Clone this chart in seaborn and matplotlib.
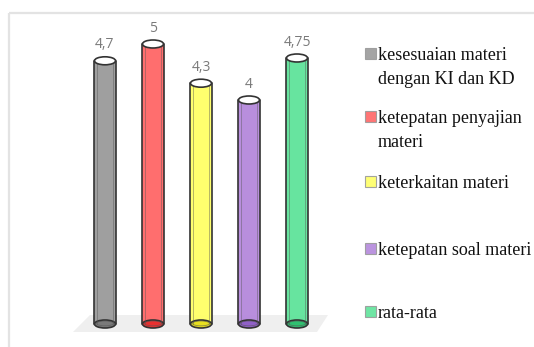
import numpy as np
import matplotlib
matplotlib.use("Agg")
import matplotlib.pyplot as plt
from matplotlib.patches import Ellipse, Polygon, Rectangle
import seaborn as sns

categories = [
    "kesesuaian materi\ndengan KI dan KD",
    "ketepatan penyajian\nmateri",
    "keterkaitan materi",
    "ketepatan soal materi",
    "rata-rata",
]
values = [4.7, 5.0, 4.3, 4.0, 4.75]
value_labels = ["4,7", "5", "4,3", "4", "4,75"]
colors = ["#9a9a9a", "#ff6666", "#ffff66", "#b488dc", "#5fe39a"]
bottom_colors = ["#7a7a7a", "#e83030", "#e8e020", "#9060c8", "#2fc070"]

sns.set_theme(style="white")
W, H = 534, 347
fig = plt.figure(figsize=(W / 100, H / 100), dpi=100)
ax = fig.add_axes([0, 0, 1, 1])

sns.barplot(x=list(range(len(values))), y=values, hue=list(range(len(values))),
            palette=colors, width=0.44, saturation=1, legend=False,
            edgecolor="none", linewidth=0, alpha=0.95, ax=ax)

# pixel-to-data mapping: category spacing 48 px, 56 px per unit
x0_px, y0_px, xs, ys = 105, 324, 48, 56
ax.set_xlim(-x0_px / xs, (W - x0_px) / xs)
ax.set_ylim((y0_px - H) / ys, y0_px / ys)
ax.axis("off")

def px(x, y):
    return ((x - x0_px) / xs, (y0_px - y) / ys)

# floor plane
floor = Polygon([px(90, 315), px(328, 315), px(317, 332), px(73, 332)],
                closed=True, fc="#efefef", ec="none", zorder=0)
ax.add_patch(floor)

# outer frame
ax.plot([px(9, 13)[0], px(534, 13)[0]], [px(9, 13)[1]] * 2, color="#e3e3e3", lw=1.6,
        zorder=0, solid_capstyle="butt")
ax.plot([px(9, 13)[0]] * 2, [px(9, 13)[1], px(9, 347)[1]], color="#e3e3e3", lw=1.6,
        zorder=0, solid_capstyle="butt")

eh = 8 / ys
edge = "#333333"
bars = [p for p in ax.patches if isinstance(p, Rectangle) and p.get_height() > 0]
for p, v, lab, bc in zip(bars, values, value_labels, bottom_colors):
    p.set_zorder(2)
    cx = p.get_x() + p.get_width() / 2
    w = p.get_width()
    top = p.get_height()
    # bottom cap
    ax.add_patch(Ellipse((cx, 0), w, eh, fc=bc, ec=edge, lw=1.2, zorder=3))
    ax.add_patch(Ellipse((cx, 0.01), w * 0.8, eh * 0.6, fc="none", ec="#555555",
                         lw=0.6, alpha=0.6, zorder=3))
    # sides
    ax.plot([p.get_x()] * 2, [0, top], color=edge, lw=1.2, zorder=4)
    ax.plot([p.get_x() + w] * 2, [0, top], color=edge, lw=1.2, zorder=4)
    ax.plot([p.get_x() + w * 0.12] * 2, [0, top], color="#555555", lw=0.6, alpha=0.5, zorder=4)
    ax.plot([p.get_x() + w * 0.88] * 2, [0, top], color="#555555", lw=0.6, alpha=0.5, zorder=4)
    # top cap
    ax.add_patch(Ellipse((cx, top), w, eh, fc="white", ec=edge, lw=1.2, zorder=5))
    ax.text(cx, top + 16 / ys, lab, ha="center", va="center", fontsize=10,
            color="#7a7a7a", family="Open Sans", zorder=6)

# legend
legend_rows = [54, 117, 182, 249, 312]
for name, col, ry in zip(categories, colors, legend_rows):
    fig.patches.append(Rectangle((365 / W, 1 - (ry + 5) / H), 11 / W, 11 / H,
                                 transform=fig.transFigure, fc=col, ec="#9a9a9a",
                                 lw=0.8, alpha=0.9))
    fig.text(378 / W, 1 - (ry - 7) / H, name, ha="left", va="top", fontsize=13,
             family="Liberation Serif", color="#111111", linespacing=1.55)

fig.savefig("out.png", dpi=100)
